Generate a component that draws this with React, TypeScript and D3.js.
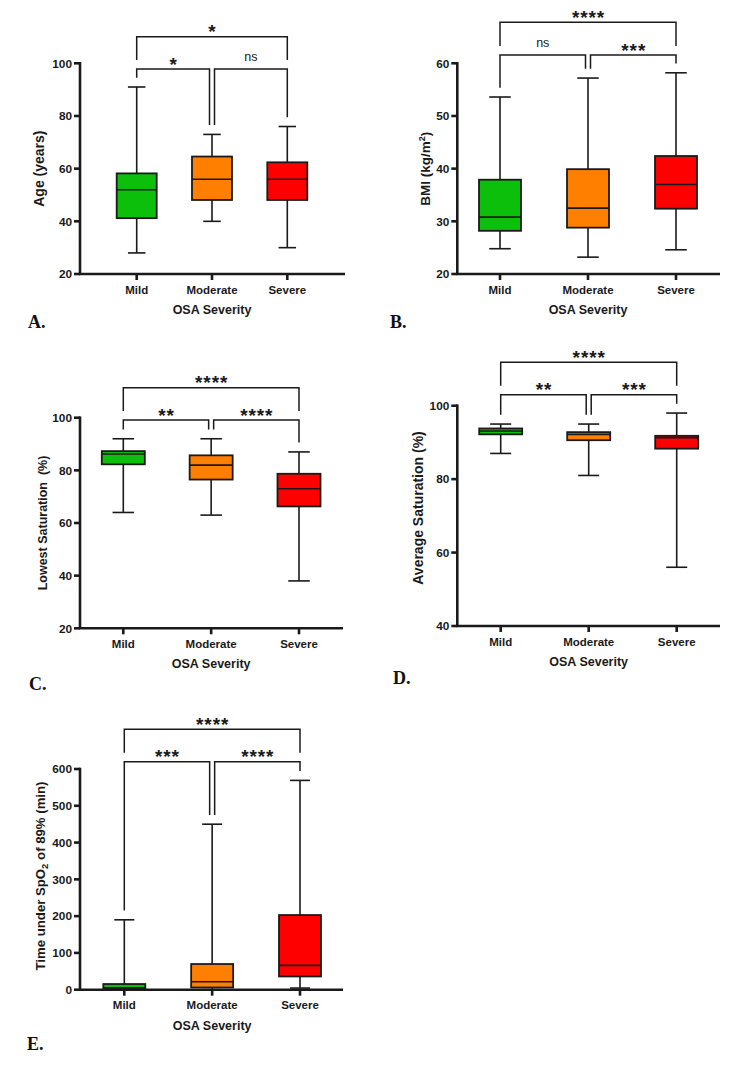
import React from 'react';
import * as d3 from 'd3';

const categories = ['Mild', 'Moderate', 'Severe'];
const boxColors = ['#0bbf0b', '#ff8000', '#ff0000'];

// [min, q1, median, q3, max] per category
const ageStats = [[28, 41.2, 52, 58.2, 91], [40, 48.1, 56, 64.6, 73], [30, 48.1, 56, 62.4, 76]];
const bmiStats = [[24.8, 28.2, 30.8, 37.9, 53.6], [23.2, 28.8, 32.5, 39.9, 57.2], [24.6, 32.4, 37, 42.4, 58.2]];
const lowestSatStats = [[64, 82.3, 86.2, 87.3, 92], [63, 76.5, 82, 85.7, 92], [38, 66.3, 73, 78.7, 87]];
const avgSatStats = [[87, 92.2, 93.1, 93.8, 95], [81, 90.6, 92.2, 92.8, 95], [56, 88.3, 91.3, 91.8, 98]];
const timeStats = [[0, 2.7, 5, 15.4, 190], [0, 6, 21.8, 69.8, 450], [4.5, 36, 66, 203, 569]];

const ageTicks = [20, 40, 60, 80, 100];
const bmiTicks = [20, 30, 40, 50, 60];
const lowestSatTicks = [20, 40, 60, 80, 100];
const avgSatTicks = [40, 60, 80, 100];
const timeTicks = [0, 100, 200, 300, 400, 500, 600];

// significance: [Mild vs Moderate, Moderate vs Severe, Mild vs Severe]
const ageSig = ['*', 'ns', '*'];
const bmiSig = ['ns', '***', '****'];
const lowestSatSig = ['**', '****', '****'];
const avgSatSig = ['**', '***', '****'];
const timeSig = ['***', '****', '****'];

const SANS = "Arial, 'Liberation Sans', Helvetica, sans-serif";
const SERIF = "'Times New Roman', 'Liberation Serif', serif";
const INK = '#1a1a1a';

type PanelProps = {
  stats: number[][];
  ticks: number[];
  sig: string[];
  letter: string;
  title: React.ReactNode;
  titleSize: number;
  titleX: number;
  titleY?: number;
  axisX: number;
  xEnd: number;
  yTop: number;
  yBottom: number;
  catRange: [number, number];
  boxW: number;
  capW: number;
  lowY: number;
  topY: number;
  letterX: number;
  letterY: number;
};

const Sig = ({ x, y, text }: { x: number; y: number; text: string }) => {
  if (text === 'ns') {
    return (
      <text x={x} y={y - 8} textAnchor="middle" fontFamily={SANS} fontSize={12.5} fill={INK}>ns</text>
    );
  }
  return (
    <text x={x + 0.5} y={y + 1.5} textAnchor="middle" fontFamily={SANS} fontWeight="bold"
      fontSize={19} letterSpacing={0.9} fill={INK}>{text}</text>
  );
};

const Panel = (p: PanelProps) => {
  const lo = p.ticks[0];
  const hi = p.ticks[p.ticks.length - 1];
  const y = d3.scaleLinear().domain([lo, hi]).range([p.yBottom, p.yTop]);
  const x = d3.scalePoint<string>().domain(categories).range(p.catRange);
  const cx = categories.map(c => x(c) as number);
  const gap = 9.3;
  const legEnd = (i: number) => y(p.stats[i][4]) - gap;
  const midL = cx[1] - 2.5;
  const midR = cx[1] + 2.5;
  const bracketPath = (x0: number, x1: number, yb: number, e0: number, e1: number) =>
    `M${x0},${e0}V${yb}H${x1}V${e1}`;
  const titleY = p.titleY ?? (p.yTop + p.yBottom) / 2;

  return (
    <g>
      {/* boxes */}
      {p.stats.map((s, i) => {
        const [mn, q1, md, q3, mx] = s;
        return (
          <g key={i} stroke={INK}>
            <line x1={cx[i]} x2={cx[i]} y1={y(mx)} y2={y(q3)} strokeWidth={1.6} />
            <line x1={cx[i]} x2={cx[i]} y1={y(q1)} y2={y(mn)} strokeWidth={1.6} />
            <line x1={cx[i] - p.capW / 2} x2={cx[i] + p.capW / 2} y1={y(mx)} y2={y(mx)} strokeWidth={1.6} />
            <line x1={cx[i] - p.capW / 2} x2={cx[i] + p.capW / 2} y1={y(mn)} y2={y(mn)} strokeWidth={1.6} />
            <rect x={cx[i] - p.boxW / 2} y={y(q3)} width={p.boxW} height={y(q1) - y(q3)}
              fill={boxColors[i]} strokeWidth={1.8} />
            <line x1={cx[i] - p.boxW / 2} x2={cx[i] + p.boxW / 2} y1={y(md)} y2={y(md)} strokeWidth={1.6} />
          </g>
        );
      })}

      {/* axes */}
      <g stroke={INK} strokeWidth={2.6} fill="none">
        <line x1={p.axisX} x2={p.axisX} y1={p.yTop - 1.3} y2={p.yBottom} />
        <line x1={p.axisX - 1.3} x2={p.xEnd} y1={p.yBottom} y2={p.yBottom} />
        {p.ticks.map(t => (
          <line key={t} x1={p.axisX - 6} x2={p.axisX} y1={y(t)} y2={y(t)} />
        ))}
        {cx.map((c, i) => (
          <line key={i} x1={c} x2={c} y1={p.yBottom} y2={p.yBottom + 6} />
        ))}
      </g>
      {p.ticks.map(t => (
        <text key={t} x={p.axisX - 8} y={y(t)} dy="0.36em" textAnchor="end" fontFamily={SANS}
          fontWeight="bold" fontSize={11.8} fill={INK}>{t}</text>
      ))}
      {categories.map((c, i) => (
        <text key={c} x={cx[i]} y={p.yBottom + 19.5} textAnchor="middle" fontFamily={SANS}
          fontWeight="bold" fontSize={11.5} fill={INK}>{c}</text>
      ))}
      <text x={cx[1]} y={p.yBottom + 40} textAnchor="middle" fontFamily={SANS} fontWeight="bold"
        fontSize={12.5} fill={INK}>OSA Severity</text>
      <text transform={`translate(${p.titleX},${titleY}) rotate(-90)`} dy="0.35em" textAnchor="middle"
        fontFamily={SANS} fontWeight="bold" fontSize={p.titleSize} fill={INK}
        style={{ whiteSpace: 'pre' }}>{p.title}</text>

      {/* significance brackets */}
      <g stroke={INK} strokeWidth={1.5} fill="none">
        <path d={bracketPath(cx[0], midL, p.lowY, legEnd(0), legEnd(1))} />
        <path d={bracketPath(midR, cx[2], p.lowY, legEnd(1), legEnd(2))} />
        <path d={bracketPath(cx[0], cx[2], p.topY, p.lowY - 9, p.lowY - 9)} />
      </g>
      <Sig x={(cx[0] + midL) / 2} y={p.lowY} text={p.sig[0]} />
      <Sig x={(midR + cx[2]) / 2} y={p.lowY} text={p.sig[1]} />
      <Sig x={cx[1]} y={p.topY} text={p.sig[2]} />

      <text x={p.letterX} y={p.letterY} fontFamily={SERIF} fontWeight="bold" fontSize={18} fill="#111">{p.letter}</text>
    </g>
  );
};

export default function App() {
  return (
    <svg width={750} height={1065} viewBox="0 0 750 1065"
      style={{ position: 'absolute', left: 0, top: 0, background: '#fff' }}>
      <rect width={750} height={1065} fill="#fff" />
      <Panel stats={ageStats} ticks={ageTicks} sig={ageSig} letter="A." title="Age (years)" titleSize={14}
        titleX={39.5} axisX={80} xEnd={345} yTop={63.3} yBottom={274} catRange={[136.7, 287.3]}
        boxW={40} capW={17.5} lowY={69} topY={36.7} letterX={28} letterY={328} />
      <Panel stats={bmiStats} ticks={bmiTicks} sig={bmiSig} letter="B."
        title={<>BMI (kg/m<tspan dy="-5" fontSize={9}>2</tspan><tspan dy="5">)</tspan></>}
        titleSize={13.5} titleX={425} axisX={457.3} xEnd={720} yTop={63.3} yBottom={274}
        catRange={[500, 676]} boxW={42} capW={21.5} lowY={55} topY={22.3} letterX={390} letterY={328} />
      <Panel stats={lowestSatStats} ticks={lowestSatTicks} sig={lowestSatSig} letter="C."
        title="Lowest Saturation  (%)" titleSize={12.5} titleX={42.7} axisX={80} xEnd={343}
        yTop={417.7} yBottom={628.3} catRange={[123.3, 299]} boxW={43} capW={21.5} lowY={420} topY={387.7}
        letterX={29} letterY={690} />
      <Panel stats={avgSatStats} ticks={avgSatTicks} sig={avgSatSig} letter="D."
        title="Average Saturation (%)" titleSize={14} titleX={418.3} titleY={508} axisX={457.3} xEnd={720}
        yTop={405.7} yBottom={626} catRange={[500.7, 676.7]} boxW={43} capW={21} lowY={394.7} topY={362.3}
        letterX={393} letterY={684} />
      <Panel stats={timeStats} ticks={timeTicks} sig={timeSig} letter="E."
        title={<>Time under SpO<tspan dy="3" fontSize={9.5}>2</tspan><tspan dy="-3"> of 89% (min)</tspan></>}
        titleSize={13.2} titleX={40} titleY={876} axisX={80} xEnd={343} yTop={769} yBottom={989.7}
        catRange={[124.3, 300]} boxW={42} capW={20} lowY={761.7} topY={729.3} letterX={27} letterY={1050} />
    </svg>
  );
}
